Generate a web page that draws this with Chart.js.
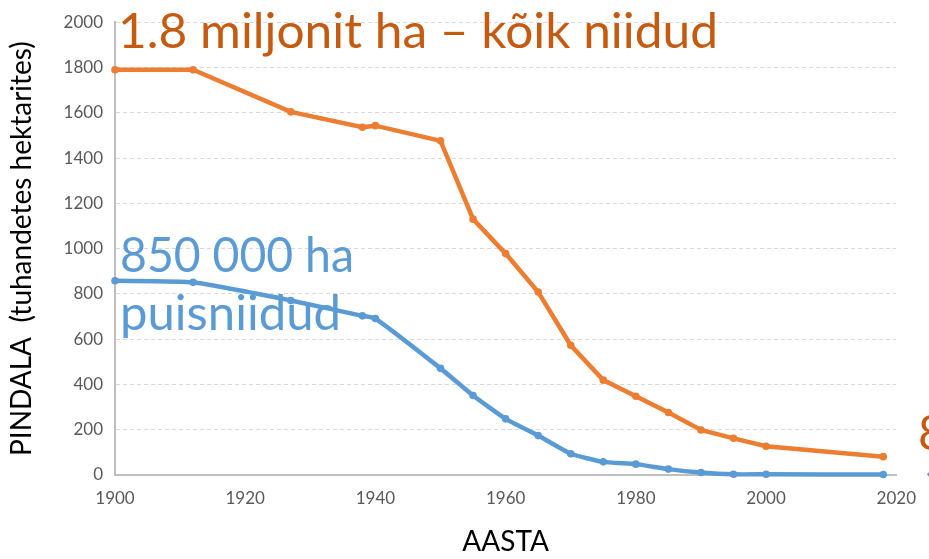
<!DOCTYPE html>
<html>
<head>
<meta charset="utf-8">
<script src="https://cdn.jsdelivr.net/npm/chart.js@4"></script>
<style>
  body { margin: 0; background: #fff; }
  #wrap { width: 929px; height: 559px; }
</style>
</head>
<body>
<div id="wrap"><canvas id="meadows" width="929" height="559"></canvas></div>
<script>
// years of the survey points
const years = [1900, 1912, 1927, 1938, 1940, 1950, 1955, 1960, 1965, 1970, 1975, 1980, 1985, 1990, 1995, 2000, 2018];
// thousand ha
const allMeadows = [1790, 1790, 1604, 1536, 1543, 1476, 1130, 978, 808, 573, 419, 348, 276, 199, 162, 127, 81];
const woodedMeadows = [858, 851, 771, 703, 691, 471, 351, 248, 174, 94, 58, 48, 26, 11, 3, 3, 2];

const xTicks = [1900, 1920, 1940, 1960, 1980, 2000, 2020];
const yTicks = [0, 200, 400, 600, 800, 1000, 1200, 1400, 1600, 1800, 2000];

const labelsText = ["1.8 miljonit ha – kõik niidud", "850 000 ha", "puisniidud", "80 000 ha", "10 000 ha"];

const ORANGE = "#ED7D31";
const BLUE = "#5B9BD5";
const FONT = "Lato, 'Open Sans', sans-serif";

const toPoints = (vals) => vals.map((v, i) => ({ x: years[i], y: v }));

// draw text squeezed/stretched to a given width (Calibri is narrower than Lato)
function fitText(ctx, text, x, y, width) {
  const w = ctx.measureText(text).width;
  ctx.save();
  ctx.translate(x, y);
  ctx.scale(width / w, 1);
  ctx.fillText(text, 0, 0);
  ctx.restore();
}

// big coloured notes written on the plot
const notesPlugin = {
  id: "notes",
  afterDatasetsDraw(chart) {
    const ctx = chart.ctx;
    const left = chart.chartArea.left;
    ctx.save();
    ctx.font = "48px " + FONT;
    ctx.textBaseline = "alphabetic";
    ctx.textAlign = "left";
    ctx.fillStyle = "#C55A11";
    fitText(ctx, labelsText[0], left + 3, 48, 600);
    ctx.fillText(labelsText[3], 918, 450);
    ctx.fillStyle = BLUE;
    fitText(ctx, labelsText[1], left + 5, 272, 234);
    fitText(ctx, labelsText[2], left + 5, 330, 221);
    ctx.fillText(labelsText[4], 923, 500);
    ctx.restore();
  }
};

new Chart(document.getElementById("meadows"), {
  type: "line",
  data: {
    datasets: [
      {
        label: "Kõik niidud",
        data: toPoints(allMeadows),
        borderColor: ORANGE,
        backgroundColor: ORANGE,
        borderWidth: 4.5,
        pointRadius: 3.8,
        pointBorderWidth: 0,
        tension: 0,
        clip: false,
      },
      {
        label: "Puisniidud",
        data: toPoints(woodedMeadows),
        borderColor: BLUE,
        backgroundColor: BLUE,
        borderWidth: 4.5,
        pointRadius: 3.8,
        pointBorderWidth: 0,
        tension: 0.15,
        clip: false,
      },
    ],
  },
  options: {
    responsive: false,
    animation: false,
    layout: { padding: { top: 15, right: 26, bottom: 0, left: 0 } },
    plugins: {
      legend: { display: false },
      tooltip: { enabled: false },
    },
    scales: {
      x: {
        type: "linear",
        min: 1900,
        max: 2020,
        afterBuildTicks: (s) => { s.ticks = xTicks.map((v) => ({ value: v })); },
        afterFit: (s) => { s.height = 84; },
        grid: { display: false, drawTicks: false },
        border: { color: "#BFBFBF", width: 2 },
        ticks: {
          color: "#595959",
          font: { family: FONT, size: 17 },
          padding: 13,
          maxRotation: 0,
          callback: (v) => String(v),
        },
        title: {
          display: true,
          text: "AASTA",
          color: "#000",
          font: { family: FONT, size: 28 },
          padding: { top: 0, bottom: 0 },
        },
      },
      y: {
        min: 0,
        max: 2000,
        afterBuildTicks: (s) => { s.ticks = yTicks.map((v) => ({ value: v })); },
        afterFit: (s) => { s.width = 115; },
        grid: { color: "#D9D9D9", lineWidth: 1, drawTicks: false },
        border: { color: "#BFBFBF", width: 2, dash: [4, 3] },
        ticks: {
          color: "#595959",
          font: { family: FONT, size: 17 },
          padding: 12,
          callback: (v) => String(v),
        },
        title: {
          display: true,
          text: "PINDALA  (tuhandetes hektarites)",
          color: "#000",
          font: { family: FONT, size: 28 },
          padding: { top: 5, bottom: 0 },
        },
      },
    },
  },
  plugins: [notesPlugin],
});
</script>
</body>
</html>
